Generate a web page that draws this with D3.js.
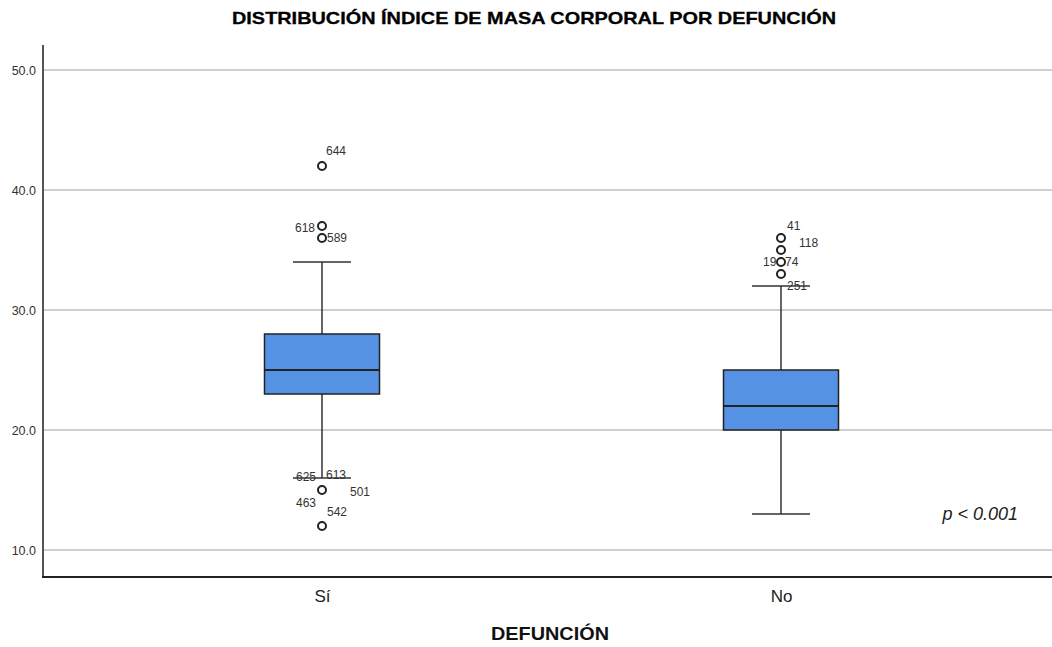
<!DOCTYPE html>
<html><head><meta charset="utf-8">
<script src="https://cdn.jsdelivr.net/npm/d3@7"></script>
<style>body{margin:0;background:#fff;}svg{display:block;font-family:"Liberation Sans",Arial,sans-serif;}</style>
</head><body>
<svg id="c" width="1052" height="647"></svg>
<script>
const categories = ["Sí", "No"];
const q1 = [23, 20];
const medians = [25, 22];
const q3 = [28, 25];
const whiskerLow = [16, 13];
const whiskerHigh = [34, 32];
const outlierCat = ["Sí","Sí","Sí","Sí","Sí","No","No","No","No"];
const outlierVal = [42, 37, 36, 15, 12, 36, 35, 34, 33];
const labelText = ["644","618","589","625","613","501","463","542","41","118","19","74","251"];
const labelCat  = ["Sí","Sí","Sí","Sí","Sí","Sí","Sí","Sí","No","No","No","No","No"];
const labelVal  = [42, 37, 36, 15, 15, 15, 15, 12, 36, 35, 34, 34, 33];
const labelOffset = [[4,-11],[-27,6],[5,4],[-26,-9],[4,-11],[28,6],[-26,17],[5,-10],[6,-8],[18,-3],[-18,4],[4,4],[6,16]];
const yTicks = [10, 20, 30, 40, 50];

const svg = d3.select("#c");
const m = {left:43, right:1052, top:45, bottom:577};
const y = d3.scaleLinear().domain([50 + 25/12, 10 - 27/12]).range([m.top, m.bottom]);
const x = d3.scalePoint().domain(categories).range([m.left + 279, m.right - 271]);
const bw = 115;

// gridlines
svg.append("g").selectAll("line").data(yTicks).join("line")
  .attr("x1", m.left).attr("x2", m.right)
  .attr("y1", d=>y(d)).attr("y2", d=>y(d))
  .attr("stroke", "#cfcfcf").attr("stroke-width", 2);

// y axis
const ya = svg.append("g").attr("transform", `translate(${m.left},0)`)
  .call(d3.axisLeft(y).tickValues(yTicks).tickFormat(d3.format(".1f")).tickSize(0).tickPadding(7));
ya.select(".domain").remove();
ya.selectAll("text").attr("font-size", 12.5).attr("fill", "#333").attr("font-family", '"Liberation Sans",Arial,sans-serif');
svg.append("line").attr("x1", m.left).attr("x2", m.left).attr("y1", m.top).attr("y2", m.bottom)
  .attr("stroke", "#555").attr("stroke-width", 2);

// x axis
const xa = svg.append("g").attr("transform", `translate(0,${m.bottom})`)
  .call(d3.axisBottom(x).tickSize(0).tickPadding(13));
xa.select(".domain").remove();
xa.selectAll("text").attr("font-size", 17).attr("fill", "#222").attr("font-family", '"Liberation Sans",Arial,sans-serif');
svg.append("line").attr("x1", m.left-1).attr("x2", m.right).attr("y1", m.bottom).attr("y2", m.bottom)
  .attr("stroke", "#222").attr("stroke-width", 2);

const cx = c => x(c);

// boxes
const g = svg.append("g");
categories.forEach((c, i) => {
  const xc = cx(c);
  g.append("line").attr("x1", xc).attr("x2", xc).attr("y1", y(whiskerHigh[i])).attr("y2", y(q3[i])).attr("stroke", "#333").attr("stroke-width", 1.5);
  g.append("line").attr("x1", xc).attr("x2", xc).attr("y1", y(q1[i])).attr("y2", y(whiskerLow[i])).attr("stroke", "#333").attr("stroke-width", 1.5);
  [whiskerHigh[i], whiskerLow[i]].forEach(v => {
    g.append("line").attr("x1", xc - 29).attr("x2", xc + 29).attr("y1", y(v)).attr("y2", y(v)).attr("stroke", "#333").attr("stroke-width", 1.5);
  });
  g.append("rect").attr("x", xc - bw/2).attr("width", bw).attr("y", y(q3[i])).attr("height", y(q1[i]) - y(q3[i]))
    .attr("fill", "#5592e3").attr("stroke", "#222").attr("stroke-width", 1.5);
  g.append("line").attr("x1", xc - bw/2).attr("x2", xc + bw/2).attr("y1", y(medians[i])).attr("y2", y(medians[i])).attr("stroke", "#222").attr("stroke-width", 2);
});

// outliers
svg.append("g").selectAll("circle").data(outlierVal).join("circle")
  .attr("cx", (d,i)=>cx(outlierCat[i])).attr("cy", d=>y(d)).attr("r", 4)
  .attr("fill", "none").attr("stroke", "#222").attr("stroke-width", 2);

// outlier labels
svg.append("g").selectAll("text").data(labelText).join("text")
  .attr("x", (d,i)=>cx(labelCat[i]) + labelOffset[i][0])
  .attr("y", (d,i)=>y(labelVal[i]) + labelOffset[i][1])
  .attr("font-size", 12).attr("fill", "#333").text(d=>d);

// title
svg.append("text").attr("x", 534).attr("y", 24).attr("text-anchor", "middle")
  .attr("font-size", 17).attr("font-weight", "bold").attr("fill", "#000")
  .attr("stroke", "#000").attr("stroke-width", 0.3)
  .attr("textLength", 604).attr("lengthAdjust", "spacingAndGlyphs")
  .text("DISTRIBUCIÓN ÍNDICE DE MASA CORPORAL POR DEFUNCIÓN");
// x label
svg.append("text").attr("x", 550).attr("y", 640).attr("text-anchor", "middle")
  .attr("font-size", 18).attr("font-weight", "bold").attr("fill", "#111")
  .attr("textLength", 118).attr("lengthAdjust", "spacingAndGlyphs").text("DEFUNCIÓN");
// p value
svg.append("text").attr("x", 1018).attr("y", 520).attr("text-anchor", "end")
  .attr("font-size", 18).attr("font-style", "italic").attr("fill", "#222").text("p < 0.001");
</script>
</body></html>
